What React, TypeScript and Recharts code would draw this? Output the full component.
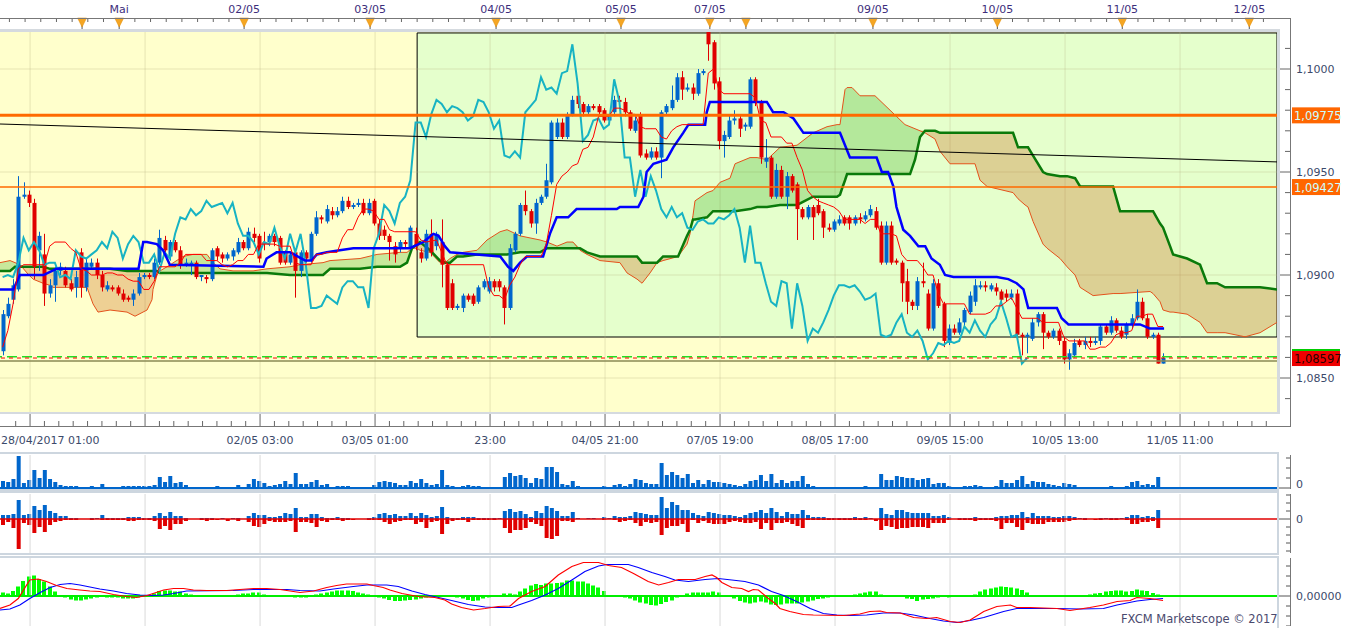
import React from 'react';
import { ComposedChart, Bar, Line, Area, XAxis, YAxis, ReferenceLine, ReferenceArea } from 'recharts';

const X_DOMAIN: [number, number] = [-0.5, 243.8];
const PRICE_DOMAIN: [number, number] = [1.08335, 1.101845];
const BLUE = '#0066CC';
const RED = '#E00000';
const FONT = '"DejaVu Sans", Verdana, sans-serif';
const AXIS_TEXT = '#3B4A6B';

// hourly candles: [open, high, low, close]
const candles: [number, number, number, number][] = [
  [1.0863,1.0883,1.0861,1.0881],[1.0880,1.0889,1.0879,1.0886],[1.0888,1.0898,1.0886,1.0895],[1.0893,1.0948,1.0892,1.0938],[1.0938,1.0945,1.0937,1.0939],
  [1.0939,1.0941,1.0933,1.0935],[1.0935,1.0937,1.0898,1.0904],[1.0912,1.0921,1.0902,1.0919],[1.0910,1.0920,1.0885,1.0891],[1.0891,1.0898,1.0889,1.0895],
  [1.0895,1.0904,1.0887,1.0902],[1.0902,1.0906,1.0900,1.0904],[1.0902,1.0904,1.0894,1.0895],[1.0896,1.0898,1.0892,1.0893],[1.0894,1.0902,1.0889,1.0899],
  [1.0911,1.0913,1.0889,1.0894],[1.0894,1.0908,1.0892,1.0906],[1.0904,1.0908,1.0903,1.0906],[1.0906,1.0908,1.0898,1.0900],[1.0900,1.0902,1.0892,1.0894],
  [1.0893,1.0897,1.0892,1.0895],[1.0894,1.0895,1.0892,1.0893],[1.0894,1.0895,1.0890,1.0891],[1.0891,1.0893,1.0887,1.0888],[1.0889,1.0890,1.0887,1.0888],
  [1.0888,1.0893,1.0885,1.0891],[1.0891,1.0901,1.0890,1.0899],[1.0899,1.0901,1.0898,1.0900],[1.0900,1.0901,1.0898,1.0899],[1.0899,1.0908,1.0898,1.0906],
  [1.0906,1.0922,1.0905,1.0918],[1.0917,1.0919,1.0910,1.0912],[1.0909,1.0917,1.0907,1.0916],[1.0916,1.0917,1.0911,1.0912],[1.0912,1.0914,1.0903,1.0905],
  [1.0905,1.0908,1.0904,1.0906],[1.0905,1.0907,1.0900,1.0906],[1.0906,1.0907,1.0898,1.0899],[1.0899,1.0900,1.0897,1.0900],[1.0899,1.0900,1.0896,1.0898],
  [1.0898,1.0913,1.0897,1.0912],[1.0913,1.0914,1.0907,1.0909],[1.0910,1.0911,1.0906,1.0908],[1.0908,1.0911,1.0907,1.0910],[1.0909,1.0913,1.0907,1.0912],
  [1.0911,1.0918,1.0910,1.0916],[1.0916,1.0917,1.0912,1.0913],[1.0913,1.0923,1.0912,1.0921],[1.0920,1.0923,1.0916,1.0918],[1.0919,1.0920,1.0906,1.0908],
  [1.0916,1.0921,1.0912,1.0915],[1.0916,1.0920,1.0914,1.0919],[1.0919,1.0920,1.0914,1.0916],[1.0918,1.0919,1.0905,1.0906],[1.0911,1.0912,1.0905,1.0906],
  [1.0906,1.0911,1.0905,1.0910],[1.0911,1.0912,1.0889,1.0902],[1.0902,1.0912,1.0899,1.0911],[1.0911,1.0912,1.0906,1.0908],[1.0907,1.0921,1.0906,1.0920],
  [1.0920,1.0931,1.0919,1.0928],[1.0928,1.0929,1.0925,1.0927],[1.0926,1.0934,1.0925,1.0932],[1.0931,1.0933,1.0927,1.0929],[1.0929,1.0933,1.0928,1.0931],
  [1.0931,1.0938,1.0930,1.0936],[1.0936,1.0938,1.0932,1.0933],[1.0933,1.0935,1.0932,1.0934],[1.0934,1.0937,1.0933,1.0935],[1.0935,1.0937,1.0929,1.0930],
  [1.0930,1.0937,1.0929,1.0935],[1.0936,1.0937,1.0924,1.0925],[1.0925,1.0927,1.0917,1.0919],[1.0922,1.0924,1.0917,1.0919],[1.0919,1.0920,1.0907,1.0916],
  [1.0914,1.0916,1.0906,1.0910],[1.0913,1.0917,1.0911,1.0916],[1.0916,1.0917,1.0913,1.0915],[1.0913,1.0924,1.0912,1.0923],[1.0920,1.0923,1.0912,1.0914],
  [1.0911,1.0913,1.0906,1.0908],[1.0908,1.0922,1.0907,1.0920],[1.0920,1.0927,1.0909,1.0911],[1.0914,1.0921,1.0912,1.0920],[1.0916,1.0927,1.0894,1.0905],
  [1.0905,1.0906,1.0883,1.0884],[1.0896,1.0898,1.0883,1.0884],[1.0884,1.0886,1.0883,1.0885],[1.0884,1.0891,1.0882,1.0890],[1.0890,1.0891,1.0887,1.0888],
  [1.0890,1.0891,1.0885,1.0886],[1.0887,1.0895,1.0886,1.0894],[1.0894,1.0898,1.0893,1.0897],[1.0892,1.0899,1.0891,1.0897],[1.0897,1.0898,1.0892,1.0894],
  [1.0897,1.0898,1.0892,1.0894],[1.0894,1.0895,1.0876,1.0884],[1.0884,1.0915,1.0883,1.0913],[1.0912,1.0921,1.0911,1.0920],[1.0920,1.0935,1.0919,1.0934],
  [1.0934,1.0941,1.0929,1.0931],[1.0931,1.0932,1.0923,1.0925],[1.0925,1.0937,1.0920,1.0935],[1.0935,1.0939,1.0934,1.0938],[1.0938,1.0954,1.0937,1.0946],
  [1.0945,1.0975,1.0944,1.0974],[1.0967,1.0976,1.0966,1.0974],[1.0974,1.0976,1.0966,1.0967],[1.0967,1.0979,1.0966,1.0978],[1.0978,1.0987,1.0977,1.0985],
  [1.0987,1.0988,1.0981,1.0983],[1.0983,1.0984,1.0977,1.0979],[1.0979,1.0983,1.0978,1.0982],[1.0982,1.0983,1.0980,1.0981],[1.0982,1.0983,1.0978,1.0979],
  [1.0980,1.0981,1.0974,1.0975],[1.0975,1.0978,1.0974,1.0977],[1.0979,1.0987,1.0977,1.0985],[1.0985,1.0987,1.0982,1.0984],[1.0984,1.0986,1.0977,1.0979],
  [1.0979,1.0980,1.0970,1.0971],[1.0970,1.0977,1.0969,1.0975],[1.0978,1.0979,1.0957,1.0958],[1.0959,1.0961,1.0956,1.0957],[1.0957,1.0962,1.0956,1.0960],
  [1.0960,1.0962,1.0956,1.0957],[1.0957,1.0980,1.0947,1.0979],[1.0979,1.0983,1.0978,1.0982],[1.0981,1.0992,1.0980,1.0985],[1.0985,1.0998,1.0984,1.0996],
  [1.0996,1.0999,1.0985,1.0990],[1.0990,1.0993,1.0989,1.0991],[1.0991,1.0993,1.0985,1.0988],[1.0988,1.1000,1.0987,1.0998],[1.0998,1.1000,1.0997,1.0999],
  [1.1018,1.1018,1.1004,1.1012],[1.1013,1.1014,1.0990,1.0993],[1.0994,1.0996,1.0961,1.0965],[1.0965,1.0970,1.0957,1.0968],[1.0967,1.0978,1.0966,1.0975],
  [1.0975,1.0980,1.0973,1.0976],[1.0976,1.0978,1.0967,1.0971],[1.0972,1.0974,1.0970,1.0973],[1.0972,1.0996,1.0971,1.0995],[1.0995,1.0996,1.0982,1.0984],
  [1.0984,1.0985,1.0954,1.0957],[1.0955,1.0966,1.0952,1.0957],[1.0957,1.0958,1.0937,1.0938],[1.0938,1.0954,1.0937,1.0951],[1.0951,1.0953,1.0937,1.0938],
  [1.0938,1.0950,1.0932,1.0948],[1.0948,1.0949,1.0940,1.0941],[1.0944,1.0945,1.0917,1.0932],[1.0932,1.0933,1.0927,1.0928],[1.0928,1.0934,1.0927,1.0933],
  [1.0933,1.0934,1.0917,1.0928],[1.0934,1.0937,1.0929,1.0930],[1.0931,1.0932,1.0918,1.0923],[1.0923,1.0925,1.0921,1.0922],[1.0922,1.0927,1.0921,1.0926],
  [1.0925,1.0929,1.0924,1.0927],[1.0928,1.0929,1.0924,1.0925],[1.0928,1.0929,1.0922,1.0925],[1.0925,1.0929,1.0924,1.0928],[1.0928,1.0930,1.0925,1.0927],
  [1.0927,1.0931,1.0926,1.0929],[1.0929,1.0934,1.0928,1.0932],[1.0931,1.0933,1.0922,1.0923],[1.0924,1.0926,1.0905,1.0906],[1.0906,1.0926,1.0905,1.0924],
  [1.0924,1.0926,1.0905,1.0906],[1.0907,1.0908,1.0905,1.0906],[1.0906,1.0907,1.0887,1.0896],[1.0897,1.0903,1.0881,1.0887],[1.0887,1.0888,1.0883,1.0885],
  [1.0885,1.0899,1.0883,1.0897],[1.0897,1.0906,1.0894,1.0896],[1.0891,1.0893,1.0873,1.0874],[1.0874,1.0898,1.0873,1.0896],[1.0896,1.0898,1.0884,1.0885],
  [1.0886,1.0887,1.0865,1.0868],[1.0868,1.0876,1.0866,1.0874],[1.0874,1.0876,1.0871,1.0872],[1.0872,1.0879,1.0871,1.0877],[1.0877,1.0884,1.0875,1.0883],
  [1.0882,1.0892,1.0881,1.0890],[1.0887,1.0898,1.0885,1.0895],[1.0894,1.0897,1.0893,1.0895],[1.0895,1.0897,1.0892,1.0894],[1.0893,1.0896,1.0892,1.0895],
  [1.0894,1.0896,1.0890,1.0892],[1.0892,1.0893,1.0887,1.0888],[1.0891,1.0893,1.0887,1.0889],[1.0889,1.0893,1.0888,1.0891],[1.0891,1.0893,1.0870,1.0871],
  [1.0871,1.0872,1.0861,1.0870],[1.0870,1.0872,1.0862,1.0871],[1.0869,1.0879,1.0868,1.0877],[1.0877,1.0882,1.0875,1.0881],[1.0881,1.0882,1.0864,1.0872],
  [1.0872,1.0873,1.0869,1.0870],[1.0870,1.0874,1.0869,1.0873],[1.0873,1.0874,1.0866,1.0868],[1.0868,1.0870,1.0857,1.0859],[1.0859,1.0864,1.0854,1.0862],
  [1.0861,1.0869,1.0860,1.0867],[1.0868,1.0869,1.0865,1.0866],[1.0866,1.0870,1.0864,1.0868],[1.0868,1.0870,1.0865,1.0867],[1.0867,1.0870,1.0866,1.0868],
  [1.0868,1.0876,1.0866,1.0875],[1.0875,1.0876,1.0871,1.0872],[1.0872,1.0880,1.0871,1.0878],[1.0878,1.0879,1.0872,1.0873],[1.0873,1.0875,1.0869,1.0870],
  [1.0871,1.0877,1.0869,1.0876],[1.0876,1.0881,1.0874,1.0879],[1.0879,1.0893,1.0878,1.0887],[1.0887,1.0889,1.0878,1.0879],[1.0879,1.0881,1.0869,1.0870],
  [1.0870,1.0872,1.0869,1.0871],[1.0871,1.0872,1.0857,1.0857],[1.0857,1.0862,1.0857,1.08597],
];

const volumes = [
  7,6,9,32,5,8,18,10,18,9, 6,3,2,2,2,0.5,0.5,2,1,4, 1,0.3,0.3,2,2,2,2,2,2,3, 11,6,12,5,6,3,1,1,1,1,
  1,2,1,1,1,3,1,4,9,7, 5,2,3,4,7,4,15,4,4,6, 8,3,4,1,2,2,2,1,1,1, 1,3,6,7,6,5,3,3,7,5,
  9,5,3,4,18,3,2,1,2,3, 2,2,1,1,1,1,11,15,12,13, 10,5,10,9,21,21,16,4,3,7, 2,1,1,1,1,2,1,3,4,2,
  4,9,8,5,4,4,25,13,16,13, 10,14,5,8,4,8,6,6,5,4, 3,2,4,7,8,13,7,14,5,8, 5,7,7,12,4,2,1,1,1,1,
  1,1,1,1,1,2,1,0.5,14,8, 8,12,11,10,10,8,9,10,4,5, 5,2,1,1,2,2,3,2,1,1, 2,8,5,5,8,12,4,7,6,6,
  4,3,2,5,4,3,1,1,1,0.3, 1,1,2,1,1,2,6,7,3,4, 3,11,1,
];

const buyVolumes = [
  4,4,5,19,4,5,13,9,14,8, 6,3,3,1,1,0,0,1,1,4, 1,1,1,1,2,2,2,1,1,3, 6,3,7,3,3,1,0,0,1,1,
  1,0,1,0,1,1,0,3,6,4, 4,2,2,3,6,5,11,2,2,5, 5,2,1,1,2,1,1,0,0,0, 1,2,5,6,4,5,3,3,6,3,
  6,4,2,3,12,2,1,1,2,2, 2,1,1,1,1,1,8,10,7,8, 5,2,8,6,13,11,8,3,3,7, 1,0,1,1,0,2,1,3,2,2,
  3,7,6,5,4,4,22,11,17,14, 9,9,6,4,3,7,6,5,4,4, 3,2,4,6,7,9,6,11,7,3, 7,5,5,9,4,2,2,2,1,1,
  1,1,1,2,1,2,1,0,11,5, 4,9,9,7,6,6,6,6,3,3, 4,2,0,1,1,1,2,1,1,1, 2,3,3,4,4,7,2,6,3,3,
  3,2,2,3,3,2,1,1,0,0, 1,1,1,1,1,2,4,4,2,3, 2,9,0,
];

const sellVolumes = [
  6,3,9,30,4,6,14,8,13,6, 3,2,1,1,1,0,0,1,0,1, 1,1,1,1,2,2,1,1,1,2, 10,7,11,5,5,2,0,0,1,2,
  1,1,0,2,0,2,0,3,7,8, 5,2,3,3,3,2,13,3,3,4, 8,2,3,1,1,2,1,1,0,0, 1,1,1,3,5,3,2,1,1,5,
  3,9,3,2,15,5,2,1,1,3, 1,1,1,1,1,0,9,14,11,11, 9,3,5,7,19,20,17,2,2,3, 0,0,0,0,0,1,0,1,3,2,
  1,4,7,3,4,3,16,9,7,7, 5,13,1,4,2,4,5,5,5,3, 2,3,4,4,3,10,4,11,4,4, 3,5,7,9,1,1,1,1,1,1,
  1,1,1,1,1,1,0,2,11,7, 8,10,9,9,8,8,8,9,4,4, 4,1,0,1,1,1,2,1,1,1, 2,10,4,4,8,11,4,5,5,5,
  3,3,3,3,2,1,0,1,0,1, 1,0,1,1,0,1,5,5,3,3, 2,9,0,
];

const macdHist = [
  0.00007,0.00005,0.0001,0.00019,0.0003,0.00039,0.00041,0.00034,0.00029,0.00019,
  0.00009,0.00002,-0.00003,-0.00007,-0.00009,-0.00009,-0.00007,-0.00005,-0.00003,-0.00002,
  -0.00003,-0.00003,-0.00003,-0.00005,-0.00005,-0.00005,-0.00003,-0.00001,0.00002,0.00005,
  0.0001,0.00011,0.00011,0.00009,0.00009,0.00005,0.00003,0.00002,0,-0.00002,
  -0.00002,-0.00001,0,0.00001,0.00002,0.00003,0.00005,0.00005,0.00007,0.00007,
  0.00003,0.00002,0.00002,0.00002,0.00002,0,-0.00003,-0.00003,-0.00003,-0.00001,
  0.00003,0.00005,0.00007,0.00009,0.00011,0.00011,0.00011,0.0001,0.00007,0.00005,
  0.00003,0.00001,-0.00003,-0.00005,-0.00008,-0.0001,-0.0001,-0.00009,-0.00008,-0.00007,
  -0.00005,-0.00003,-0.00001,0.00001,0.00002,0.00001,-0.00002,-0.00003,-0.00005,-0.00008,
  -0.0001,-0.00009,-0.00005,-0.00003,0,0,0.00005,0.00005,0.00003,0.00009,
  0.00015,0.00021,0.00024,0.00022,0.00025,0.00025,0.00026,0.00027,0.00031,0.00031,
  0.00029,0.00029,0.00025,0.00021,0.00017,0.0001,0,-0.00001,-0.00002,-0.00003,
  -0.00005,-0.00009,-0.00013,-0.00015,-0.00018,-0.00019,-0.00016,-0.00012,-0.00009,-0.00003,
  0.00002,0.00005,0.00007,0.00007,0.00007,0.00007,0.00009,0.00007,0,-0.00002,
  -0.00005,-0.0001,-0.00013,-0.00015,-0.00013,-0.00011,-0.00013,-0.00017,-0.00018,-0.00017,
  -0.00015,-0.00015,-0.00015,-0.00013,-0.00011,-0.00009,-0.00006,-0.00005,-0.00003,-0.00001,
  0,0,0.00002,0.00003,0.00005,0.00007,0.00009,0.00009,0.00003,0.00002,
  0,0,0,-0.00005,-0.00006,-0.0001,-0.00007,-0.00006,-0.00005,-0.00003,
  -0.00001,-0.00003,-0.00002,0,0,0.00001,0.00003,0.00009,0.00013,0.00015,
  0.00017,0.00019,0.00018,0.00017,0.00015,0.00012,0.00007,0.00002,0,0,
  0,0,0,0,0,0,0.00001,0.00002,0.00003,0.00005,
  0.00006,0.00009,0.0001,0.00011,0.00011,0.00009,0.0001,0.00013,0.00011,0.0001,
  0.00006,0.00003,0.00001,
];

// [bar, value] vertices
const macdLine: [number, number][] = [
  [-0.5,-0.00025],[1.4,-0.00018],[3,-0.00005],[4,0.00012],[5.2,0.00032],[6.8,0.00034],[8.4,0.00029],[10.3,0.00021],[12.3,0.00015],
  [14.8,0.00012],[16.7,0.0001],[18.6,0.00009],[21.2,0.00003],[23.7,-0.00001],[25.6,-0.00003],[27.6,0.00001],[28.8,0.00005],[30.8,0.00012],
  [32.7,0.00015],[34.6,0.00015],[36.5,0.00012],[39,0.00011],[42.9,0.00011],[45.4,0.00013],[48,0.00015],[50.5,0.00015],[53.1,0.00013],
  [55,0.0001],[56.9,0.00007],[59.5,0.0001],[62,0.00017],[63.9,0.00021],[65.8,0.00024],[69.7,0.00024],[70.9,0.00021],[72.8,0.00017],
  [74.1,0.00012],[76.4,0.00005],[79.5,-0.00001],[82.7,-0.00003],[84.6,-0.00008],[85.9,-0.00016],[87.8,-0.00023],[90.1,-0.00028],
  [92.3,-0.00025],[94.8,-0.00021],[97.1,-0.0002],[98.7,-0.00005],[101.2,0.00009],[103.8,0.00019],[106.3,0.00042],[108.9,0.00059],
  [111.1,0.00067],[114,0.00067],[115.9,0.00061],[118.4,0.00057],[120.7,0.00045],[123.5,0.00029],[125.5,0.00022],[127.4,0.00027],
  [129.3,0.00033],[132.5,0.00033],[134.4,0.00039],[135.7,0.00042],[136.6,0.00037],[137.6,0.00027],[139.5,0.00017],[141.4,0.00015],
  [142.7,0.00009],[143.6,0.00013],[144.6,0.00012],[146.5,-0.00005],[147.8,-0.00015],[148.7,-0.00025],[150.6,-0.00031],[153.2,-0.00037],
  [155.1,-0.00038],[160.9,-0.00039],[164,-0.00036],[165.9,-0.00031],[167.9,-0.0003],[169.1,-0.00033],[171.7,-0.00034],[174.3,-0.00043],
  [176.8,-0.00045],[178.7,-0.00043],[181.3,-0.00051],[183.2,-0.00053],[185.1,-0.00048],[187.7,-0.00031],[190.2,-0.00021],[192.8,-0.00018],
  [194,-0.00023],[196.6,-0.00023],[201.7,-0.00025],[204.2,-0.00029],[208,-0.00023],[210.6,-0.00018],[213.2,-0.00011],[215.7,-0.00009],
  [217,-0.00003],[219.5,-0.00005],[222,-0.00009],
];

const signalLine: [number, number][] = [
  [-0.5,-0.00028],[1.4,-0.00026],[3.3,-0.00018],[5.2,-0.00005],[7.2,0.00007],[9.1,0.00017],[11,0.00023],[12.9,0.00025],[14.8,0.00022],
  [16.7,0.00018],[18.6,0.00014],[21.2,0.0001],[23.7,0.00005],[26.3,0.00002],[28.8,0.00001],[30.8,0.00002],[32.7,0.00005],[35.2,0.0001],
  [44.1,0.00011],[48,0.00013],[54.4,0.00013],[56.9,0.00011],[60.7,0.0001],[63.3,0.00014],[67.1,0.00019],[69.7,0.00022],[73.5,0.00022],
  [75.7,0.00019],[78.3,0.0001],[80.8,0.00003],[83.4,-0.00003],[85.9,-0.00009],[89.1,-0.00017],[92.3,-0.00022],[94.2,-0.00023],
  [97.4,-0.00023],[98.7,-0.00018],[101.2,-0.00009],[103.8,0.00002],[106.3,0.00015],[108.9,0.00032],[111.4,0.00049],[114,0.0006],
  [115.6,0.00063],[119.7,0.00063],[121.6,0.00057],[124.2,0.00047],[126.7,0.00039],[128.6,0.00032],[131.2,0.00029],[134.4,0.00033],
  [136.9,0.00035],[139.5,0.00032],[142,0.00029],[144.6,0.00022],[147.1,0.00009],[149.4,0.00001],[151.9,-0.00011],[154.5,-0.00025],
  [157,-0.00035],[159.6,-0.00038],[162.1,-0.00039],[165.3,-0.00038],[168.5,-0.00034],[171.7,-0.00034],[174.3,-0.00038],[177.4,-0.00045],
  [180,-0.0005],[182.6,-0.00053],[185.1,-0.00049],[187.7,-0.00043],[191.5,-0.00031],[194,-0.00025],[201.7,-0.00025],[206.2,-0.00026],
  [210.6,-0.00025],[213.2,-0.00018],[217,-0.0001],[219.5,-0.00007],[222,-0.00005],
];

const tenkanLine: [number, number][] = [
  [0,1.0865],[1,1.0873],[2,1.0886],[3,1.0903],[4,1.0905],[8,1.0905],[9,1.0914],[10,1.0916],[12,1.0916],[13,1.0913],[14,1.0911],
  [15,1.0903],[16,1.0902],[17,1.0900],[19,1.0900],[20,1.0901],[21,1.0901],[22,1.0900],[23,1.0900],[24,1.0898],[25,1.0897],[26,1.0897],
  [27,1.0893],[28,1.0893],[29,1.0897],[30,1.0904],[33,1.0904],[34,1.0906],[35,1.0910],[38,1.0910],[39,1.0907],[41,1.0907],[42,1.0905],
  [43,1.0904],[44,1.0905],[45,1.0907],[46,1.0907],[47,1.0910],[48,1.0910],[49,1.0915],[52,1.0915],[53,1.0914],[55,1.0914],[56,1.0906],
  [57,1.0905],[59,1.0905],[60,1.0910],[61,1.0910],[62,1.0911],[64,1.0911],[65,1.0918],[66,1.0922],[67,1.0922],[68,1.0928],[69,1.0932],
  [70,1.0932],[71,1.0931],[72,1.0927],[73,1.0927],[74,1.0922],[75,1.0921],[79,1.0921],[80,1.0917],[81,1.0916],[83,1.0917],[84,1.0911],
  [85,1.0905],[92,1.0905],[93,1.0894],[94,1.0890],[95,1.0890],[96,1.0888],[97,1.0895],[98,1.0899],[99,1.0905],[100,1.0909],[103,1.0909],
  [104,1.0915],[105,1.0929],[106,1.0944],[107,1.0948],[108,1.0950],[109,1.0953],[110,1.0954],[111,1.0961],[112,1.0962],[113,1.0967],
  [114,1.0977],[116,1.0977],[117,1.0981],[118,1.0981],[119,1.0980],[120,1.0978],[121,1.0978],[122,1.0972],[123,1.0971],[125,1.0971],
  [126,1.0967],[127,1.0966],[128,1.0970],[129,1.0972],[130,1.0973],[134,1.0973],[135,1.0998],[136,1.1000],[137,1.0990],[138,1.0988],
  [143,1.0988],[144,1.0986],[145,1.0975],[146,1.0974],[147,1.0967],[149,1.0967],[150,1.0964],[151,1.0964],[152,1.0957],[153,1.0951],
  [154,1.0941],[155,1.0938],[156,1.0936],[157,1.0935],[158,1.0934],[159,1.0933],[160,1.0931],[161,1.0927],[164,1.0927],[165,1.0925],
  [166,1.0927],[167,1.0927],[168,1.0920],[170,1.0920],[171,1.0919],[172,1.0910],[173,1.0907],[175,1.0907],[176,1.0904],[177,1.0900],
  [178,1.0900],[179,1.0891],[180,1.0886],[184,1.0886],[185,1.0881],[188,1.0881],[189,1.0882],[190,1.0885],[191,1.0885],[192,1.0887],
  [193,1.0889],[194,1.0884],[195,1.0879],[198,1.0879],[199,1.0877],[202,1.0877],[203,1.0870],[204,1.0868],[207,1.0868],[208,1.0864],
  [209,1.0864],[210,1.0865],[211,1.0865],[212,1.0867],[213,1.0871],[214,1.0872],[215,1.0872],[216,1.0873],[217,1.0880],[218,1.0880],
  [219,1.0881],[220,1.0881],[221,1.0875],[222,1.0875],
];

const kijunLine: [number, number][] = [
  [-0.5,1.0893],[2.05,1.0893],[3.3,1.0900],[7.8,1.0900],[10.3,1.0903],[26,1.0903],[26.9,1.0916],[27.6,1.0916],[29.5,1.0915],[30.7,1.0912],
  [32,1.0905],[49.9,1.0904],[50.5,1.0908],[52.4,1.0911],[55,1.0911],[57.2,1.0908],[57.9,1.0907],[59.1,1.0907],[60.1,1.0910],[62,1.0911],
  [64.5,1.0912],[67.1,1.0913],[77.9,1.0913],[80.5,1.0916],[82.4,1.0920],[83.4,1.0919],[84.6,1.0914],[85.6,1.0911],[95.2,1.0909],
  [96.7,1.0904],[97.7,1.0902],[99,1.0906],[100.3,1.0909],[103.4,1.0909],[104.7,1.0920],[106,1.0928],[108.2,1.0928],[109.8,1.0932],
  [117.5,1.0932],[118.1,1.0933],[121.6,1.0933],[122.6,1.0938],[123.2,1.0950],[124.5,1.0954],[127,1.0956],[128.3,1.0962],[130.2,1.0969],
  [131.2,1.0973],[134.4,1.0973],[134.7,1.0979],[135.3,1.0984],[146.2,1.0984],[147.4,1.0979],[149.4,1.0979],[151.3,1.0976],[153.2,1.0969],
  [160.2,1.0969],[162.1,1.0957],[167.2,1.0957],[168.2,1.0950],[169.4,1.0950],[170.4,1.0943],[171,1.0933],[172.3,1.0922],[173.6,1.0919],
  [175.2,1.0914],[176.5,1.0914],[177.7,1.0908],[179.3,1.0905],[180.3,1.0900],[181.9,1.0899],[190.2,1.0899],[192.4,1.0898],[194,1.0896],
  [195.3,1.0893],[196.2,1.0884],[201.7,1.0884],[202.6,1.0879],[203.9,1.0876],[217.6,1.0876],[219.5,1.0874],[222.2,1.0874],
];

// [bar, senkou span A, senkou span B]
const cloudPoints: [number, number, number][] = [
  [-0.5,1.0906,1.0902],[1.42,1.0907,1.0902],[2.37,1.0906,1.0904],[3.33,1.0905,1.0904],[4.67,1.0901,1.0904],[5.82,1.0898,1.0904],
  [7.73,1.0896,1.0904],[9.07,1.0895,1.0903],[9.64,1.0894,1.0903],[16.15,1.0894,1.0903],[17.29,1.0886,1.0903],[18.25,1.0882,1.0903],
  [20.55,1.0883,1.0903],[23.8,1.0882,1.0902],[25.33,1.0880,1.0902],[27.63,1.0883,1.0902],[28.58,1.0888,1.0902],[28.77,1.0893,1.0902],
  [29.54,1.0900,1.0902],[30.11,1.0902,1.0901],[31.45,1.0904,1.0901],[34.51,1.0909,1.0901],[36.43,1.0910,1.0901],[39.1,1.0910,1.0901],
  [40.25,1.0906,1.0901],[41.59,1.0903,1.0901],[44.08,1.0902,1.0901],[47.91,1.0902,1.0901],[50.58,1.0903,1.0901],[54.98,1.0904,1.0900],
  [56.9,1.0905,1.0900],[61.3,1.0906,1.0900],[62.64,1.0907,1.0903],[68.38,1.0908,1.0903],[71.63,1.0910,1.0904],[76.03,1.0911,1.0904],
  [77.37,1.0911,1.0906],[78.32,1.0913,1.0913],[79.28,1.0913,1.0915],[79.85,1.0912,1.0916],[81.77,1.0911,1.0912],[83.68,1.0906,1.0907],
  [84.64,1.0906,1.0906],[85.6,1.0908,1.0906],[86.93,1.0910,1.0909],[88.08,1.0911,1.0909],[90.76,1.0912,1.0910],[92.67,1.0917,1.0910],
  [95.16,1.0921,1.0910],[96.5,1.0922,1.0910],[98.99,1.0919,1.0911],[100.9,1.0918,1.0911],[102.81,1.0917,1.0911],[104.15,1.0916,1.0913],
  [106.06,1.0914,1.0913],[107.98,1.0916,1.0913],[109.12,1.0916,1.0913],[110.46,1.0912,1.0913],[111.8,1.0910,1.0911],[114.29,1.0907,1.0909],
  [118.1,1.0906,1.0909],[119.46,1.0901,1.0909],[121.37,1.0898,1.0909],[122.33,1.0896,1.0906],[123.86,1.0901,1.0906],[125.2,1.0906,1.0906],
  [126.35,1.0907,1.0909],[129.22,1.0909,1.0909],[130.94,1.0915,1.0919],[131.51,1.0920,1.0922],[132.08,1.0929,1.0927],[132.46,1.0936,1.0927],
  [134.76,1.0940,1.0928],[135.91,1.0941,1.0931],[137.25,1.0945,1.0931],[139.16,1.0947,1.0931],[140.12,1.0954,1.0931],[142.99,1.0957,1.0932],
  [144.33,1.0957,1.0933],[146.24,1.0956,1.0933],[148.73,1.0962,1.0934],[151.98,1.0963,1.0934],[155.04,1.0969,1.0938],[157.72,1.0972,1.0938],
  [159.63,1.0973,1.0938],[160.2,1.0973,1.0939],[160.59,1.0980,1.0942],[161.16,1.0990,1.0946],[161.55,1.0991,1.0949],[162.5,1.0991,1.0949],
  [164.03,1.0987,1.0949],[166.9,1.0987,1.0949],[169.77,1.0980,1.0949],[172.64,1.0973,1.0949],[173.6,1.0972,1.0949],[174.55,1.0971,1.0956],
  [175.51,1.0970,1.0967],[176.47,1.0969,1.0970],[178.38,1.0966,1.0970],[179.34,1.0960,1.0969],[181.25,1.0954,1.0969],[186.03,1.0954,1.0969],
  [186.99,1.0946,1.0969],[188.33,1.0943,1.0969],[193.3,1.0940,1.0969],[194.26,1.0937,1.0962],[195.6,1.0934,1.0962],[196.17,1.0933,1.0962],
  [197.13,1.0926,1.0958],[199.04,1.0915,1.0950],[199.81,1.0913,1.0949],[202.3,1.0908,1.0948],[203.64,1.0904,1.0948],[205.17,1.0900,1.0947],
  [206.13,1.0894,1.0943],[208.62,1.0890,1.0943],[212.44,1.0891,1.0943],[213.78,1.0891,1.0931],[219.52,1.0892,1.0931],[220.09,1.0891,1.0931],
  [221.43,1.0887,1.0925],[222.0,1.0883,1.0923],[223.34,1.0882,1.0914],[223.92,1.0882,1.0910],[226.6,1.0881,1.0908],[229.08,1.0877,1.0905],
  [230.42,1.0872,1.0896],[232.34,1.0872,1.0896],[233.87,1.0872,1.0894],[237.69,1.0870,1.0894],[240.56,1.0872,1.0894],[243.81,1.0877,1.0893],
];

const timeLabels = ['28/04/2017 01:00', '', '02/05 03:00', '03/05 01:00', '23:00', '04/05 21:00', '07/05 19:00', '08/05 17:00', '09/05 15:00', '10/05 13:00', '11/05 11:00'];
const dayMarks = [
  { i: 15.2, label: '' }, { i: 22.3, label: 'Mai' }, { i: 46.2, label: '02/05' }, { i: 70.3, label: '03/05' },
  { i: 94.4, label: '04/05' }, { i: 118.3, label: '05/05' }, { i: 135.3, label: '07/05' }, { i: 142.2, label: '' },
  { i: 166.5, label: '09/05' }, { i: 190.3, label: '10/05' }, { i: 214.2, label: '11/05' }, { i: 238.5, label: '12/05' },
];

const resistance = 1.09775;
const support = 1.09427;
const askPrice = 1.08603;
const bidPrice = 1.08597;
const lowLine = 1.08582;
const trendLine = [{ x: -0.5, y: 1.09733 }, { x: 243.8, y: 1.09549 }];
const box = { x1: 79.3, x2: 243.8, y1: 1.08699, y2: 1.10175 };

// chart tables
const rows = candles.map(([o, h, l, c], i) => ({
  i, o, h, l, c, vol: volumes[i], buy: buyVolumes[i], sell: -sellVolumes[i], hist: macdHist[i],
}));
const chikouRows = candles.slice(26).map((cd, k) => ({ i: k, v: cd[3] }));
const toRows = (pts: [number, number][]) => pts.map(([i, v]) => ({ i, v }));
const cloudRows = cloudPoints.map(([i, a, b]) => ({ i, a, b }));

const gridBars = Array.from({ length: 11 }, (_, k) => 5.25 + 22 * k);
const priceTicks = Array.from({ length: 18 }, (_, k) => +(1.084 + k * 0.001).toFixed(4));
const timeTicks = Array.from({ length: 88 }, (_, k) => 2.5 + 2.75 * k);
const dayTicks = (() => {
  const t = dayMarks.map((m) => m.i);
  const add = (v: number) => { if (!t.some((m) => Math.abs(m - v) < 1)) t.push(+v.toFixed(2)); };
  for (let v = 1.3; v < 120; v += 3) add(v);
  for (let v = 139.2; v < 243.8; v += 3) add(v);
  return t.sort((a, b) => a - b);
})();

const Candle = (props: any) => {
  const { x, y, width, height, payload } = props;
  if (!payload || height == null) return null;
  const { o, h, l, c } = payload;
  const top = Math.min(y, y + height);
  const span = Math.abs(height);
  const k = h > l ? span / (h - l) : 0;
  const yOf = (p: number) => top + (h - p) * k;
  const color = c >= o ? BLUE : RED;
  const cx = Math.round(x + width / 2) + 0.5;
  const bTop = yOf(Math.max(o, c));
  const bH = Math.max(1, yOf(Math.min(o, c)) - bTop);
  return (
    <g>
      <line x1={cx} x2={cx} y1={top} y2={top + span} stroke={color} strokeWidth={1} />
      <rect x={cx - 2} y={bTop} width={4} height={bH} fill={color} />
    </g>
  );
};

// fixed-width bar (the MACD axis also carries line vertices, which narrows the default band)
const HistBar = (props: any) => {
  const { x, y, width, height, fill } = props;
  if (height == null || !isFinite(y)) return null;
  const top = Math.min(y, y + height);
  const h = Math.abs(height);
  if (h < 0.01) return null;
  const cx = Math.round(x + width / 2);
  return <rect x={cx - 2} y={top} width={4} height={h} fill={fill} />;
};

const PriceTick = (props: any) => {
  const { y, payload } = props;
  const v = payload.value;
  const major = Math.abs(v * 200 - Math.round(v * 200)) < 1e-6;
  return (
    <g>
      <line x1={major ? 1277 : 1285} x2={1291} y1={y} y2={y} stroke="#666" />
      {major && (
        <text x={1296} y={y + 4} fontSize={11} fill={AXIS_TEXT} fontFamily={FONT}>
          {v.toFixed(4).replace('.', ',')}
        </text>
      )}
    </g>
  );
};

const TimeTick = (props: any) => {
  const { x, payload } = props;
  const k = Math.round((payload.value - 5.25) / 2.75);
  const major = k >= 0 && k % 8 === 0;
  const label = major ? timeLabels[k / 8] : '';
  return (
    <g>
      <line x1={x} x2={x} y1={major ? 414 : 421} y2={426} stroke="#666" />
      {label && (
        <text x={k === 0 ? 1 : x} y={444} textAnchor={k === 0 ? 'start' : 'middle'} fontSize={11} fill={AXIS_TEXT} fontFamily={FONT}>
          {label}
        </text>
      )}
    </g>
  );
};

const DayTick = (props: any) => {
  const { x, payload } = props;
  const mark = dayMarks.find((m) => Math.abs(m.i - payload.value) < 0.01);
  if (!mark) return <line x1={x} x2={x} y1={18} y2={22} stroke="#666" />;
  return (
    <g>
      <line x1={x} x2={x} y1={18} y2={31} stroke="#555" />
      <path d={`M${x - 4.5},18 L${x + 4.5},18 L${x},27 Z`} fill="#F5A623" stroke="#E08A00" strokeWidth={0.5} />
      {mark.label && (
        <text x={x} y={12.5} textAnchor="middle" fontSize={11} fill="#3D2E7C" fontFamily={FONT}>{mark.label}</text>
      )}
    </g>
  );
};

const SubTick = (props: any) => {
  const { y, payload, zeroLabel, labelDy = 4 } = props;
  const v = payload.value;
  return (
    <g>
      <line x1={v === 0 ? 1277 : 1286} x2={1291} y1={y} y2={y} stroke="#555" />
      {v === 0 && (
        <text x={1296} y={y + labelDy} fontSize={11} fill={AXIS_TEXT} fontFamily={FONT}>{zeroLabel}</text>
      )}
    </g>
  );
};

const PriceTag = (props: any) => {
  const { viewBox, text, bg, color, topLine } = props;
  if (!viewBox) return null;
  const x = viewBox.x + viewBox.width + 15;
  const y = viewBox.y;
  return (
    <g>
      <rect x={x} y={y - 8} width={48} height={16} fill={bg} />
      {topLine && <line x1={x} x2={x + 48} y1={y - 8} y2={y - 8} stroke={topLine} strokeWidth={2} />}
      <text x={x + 2} y={y + 4.5} fontSize={11.5} fill={color} fontFamily={FONT}>{text}</text>
    </g>
  );
};

const frame = (top: number, height: number): React.CSSProperties => ({
  position: 'absolute', left: -2, top, width: 1281, height, boxSizing: 'border-box',
  border: '2px solid #CDD6DF', pointerEvents: 'none',
});

const Chrome = ({ style }: { style: React.CSSProperties }) => <div style={{ position: 'absolute', ...style }} />;

export default function App() {
  return (
    <div style={{ position: 'absolute', left: 0, top: 0, width: 1349, height: 628, background: '#fff', overflow: 'hidden', fontFamily: FONT }}>
      {/* price panel */}
      <div style={{ position: 'absolute', left: 0, top: 0 }}>
        <ComposedChart width={1349} height={453} data={rows} margin={{ top: 0, right: 0, bottom: 0, left: 0 }}>
          <XAxis dataKey="i" type="number" domain={X_DOMAIN} allowDataOverflow ticks={timeTicks} interval={0}
            height={41} tick={(p: any) => <TimeTick {...p} />} tickLine={false} axisLine={false} />
          <XAxis xAxisId="top" orientation="top" dataKey="i" type="number" domain={X_DOMAIN} allowDataOverflow ticks={dayTicks}
            interval={0} height={31} tick={(p: any) => <DayTick {...p} />} tickLine={false} axisLine={false} />
          <YAxis orientation="right" width={72} type="number" domain={PRICE_DOMAIN} allowDataOverflow ticks={priceTicks}
            interval={0} tick={(p: any) => <PriceTick {...p} />} tickLine={false} axisLine={false} />

          <ReferenceArea x1={X_DOMAIN[0]} x2={X_DOMAIN[1]} y1={PRICE_DOMAIN[0]} y2={PRICE_DOMAIN[1]} fill="#FFFFCC" fillOpacity={1} stroke="none" zIndex={-300} />
          <ReferenceArea x1={box.x1} x2={box.x2} y1={box.y1} y2={box.y2} fill="#E5FFCC" fillOpacity={1} stroke="#000" strokeWidth={1} zIndex={-250} />
          {gridBars.map((g) => (
            <ReferenceLine key={g} x={g} stroke="#B8B488" strokeOpacity={0.35} zIndex={-200} />
          ))}
          {[1.085, 1.09, 1.095, 1.1].map((p) => (
            <ReferenceLine key={p} y={p} stroke="#B8B488" strokeOpacity={0.35} zIndex={-200} />
          ))}

          <Area data={cloudRows} dataKey={(d: any) => [d.b, Math.max(d.a, d.b)]} type="linear" stroke="none"
            fill="#1AA000" fillOpacity={0.24} isAnimationActive={false} activeDot={false} zIndex={100} />
          <Area data={cloudRows} dataKey={(d: any) => [d.a, Math.max(d.a, d.b)]} type="linear" stroke="none"
            fill="#C86414" fillOpacity={0.3} isAnimationActive={false} activeDot={false} zIndex={100} />
          <Line data={cloudRows} dataKey="a" type="linear" stroke="#E4521B" strokeWidth={1} dot={false} activeDot={false} isAnimationActive={false} zIndex={150} />
          <Line data={cloudRows} dataKey="b" type="linear" stroke="#0A7A0A" strokeWidth={2.5} dot={false} activeDot={false} isAnimationActive={false} zIndex={150} />

          <Bar dataKey={(d: any) => [d.l, d.h]} barSize={5} shape={(p: any) => <Candle {...p} />} isAnimationActive={false} zIndex={300} />

          <Line data={chikouRows} dataKey="v" type="linear" stroke="#17B3C3" strokeWidth={2} dot={false} activeDot={false} isAnimationActive={false} zIndex={400} />
          <Line data={toRows(kijunLine)} dataKey="v" type="linear" stroke="#0000FF" strokeWidth={2.5} dot={false} activeDot={false} isAnimationActive={false} zIndex={400} />
          <Line data={toRows(tenkanLine)} dataKey="v" type="linear" stroke="#FF0000" strokeWidth={1} dot={false} activeDot={false} isAnimationActive={false} zIndex={400} />

          <ReferenceLine segment={trendLine} stroke="#000" strokeWidth={1} zIndex={450} />
          <ReferenceLine y={resistance} stroke="#FF6A00" strokeWidth={3} zIndex={450}
            label={(p: any) => <PriceTag {...p} text="1,09775" bg="#FF6600" color="#CCFFFF" />} />
          <ReferenceLine y={support} stroke="#FF6A00" strokeWidth={1.5} zIndex={450}
            label={(p: any) => <PriceTag {...p} text="1,09427" bg="#FF6600" color="#CCFFFF" />} />
          <ReferenceLine y={lowLine} stroke="#8A8A55" strokeWidth={1.5} zIndex={450} />
          <ReferenceLine y={askPrice} stroke="#22DD22" strokeWidth={1.5} strokeDasharray="10 5" zIndex={450} />
          <ReferenceLine y={bidPrice} stroke="#FF0000" strokeWidth={1} strokeDasharray="4 4" zIndex={450}
            label={(p: any) => <PriceTag {...p} text="1,08597" bg="#F00000" color="#2A0000" topLine="#00CC00" />} />
        </ComposedChart>
      </div>

      {/* axis chrome */}
      <Chrome style={{ left: 0, top: 18, width: 1291, height: 1, background: '#777' }} />
      <Chrome style={{ left: 0, top: 29, width: 1279, height: 3, background: '#D5DADF' }} />
      <Chrome style={{ left: 1277, top: 29, width: 3, height: 385, background: '#D5DADF' }} />
      <Chrome style={{ left: 0, top: 412, width: 1280, height: 2, background: '#D5DADF' }} />
      <Chrome style={{ left: 0, top: 426, width: 1291, height: 1, background: '#777' }} />
      <Chrome style={{ left: 1290, top: 18, width: 1, height: 409, background: '#777' }} />

      {/* volume */}
      <div style={{ position: 'absolute', left: 0, top: 455 }}>
        <ComposedChart width={1349} height={37} data={rows} margin={{ top: 0, right: 0, bottom: 4, left: 0 }}>
          <XAxis dataKey="i" type="number" domain={X_DOMAIN} allowDataOverflow hide />
          <YAxis orientation="right" width={72} type="number" domain={[0, 33]} allowDataOverflow ticks={[0, 10, 20, 30]}
            interval={0} tick={(p: any) => <SubTick {...p} zeroLabel="0" labelDy={0} />} tickLine={false} axisLine={false} />
          {gridBars.map((g) => <ReferenceLine key={g} x={g} stroke="#D9D9D9" />)}
          <ReferenceLine y={0} stroke={BLUE} strokeWidth={2} />
          <Bar dataKey="vol" fill={BLUE} barSize={4} isAnimationActive={false} />
        </ComposedChart>
      </div>
      <div style={frame(452, 39)} />
      <Chrome style={{ left: 1290, top: 455, width: 1, height: 34, background: '#777' }} />

      {/* buy / sell volume */}
      <div style={{ position: 'absolute', left: 0, top: 494 }}>
        <ComposedChart width={1349} height={59} data={rows} stackOffset="sign" margin={{ top: 0, right: 0, bottom: 0, left: 0 }}>
          <XAxis dataKey="i" type="number" domain={X_DOMAIN} allowDataOverflow hide />
          <YAxis orientation="right" width={72} type="number" domain={[-34, 25]} allowDataOverflow
            ticks={[-32, -24, -16, -8, 0, 8, 16, 24]} interval={0}
            tick={(p: any) => <SubTick {...p} zeroLabel="0" />} tickLine={false} axisLine={false} />
          {gridBars.map((g) => <ReferenceLine key={g} x={g} stroke="#D9D9D9" />)}
          <Bar dataKey="buy" stackId="s" fill={BLUE} barSize={4} isAnimationActive={false} />
          <Bar dataKey="sell" stackId="s" fill={RED} barSize={4} isAnimationActive={false} />
          <ReferenceLine y={0} stroke="#E00000" strokeWidth={1.5} />
        </ComposedChart>
      </div>
      <div style={frame(491, 64)} />
      <Chrome style={{ left: 1290, top: 494, width: 1, height: 59, background: '#777' }} />

      {/* MACD */}
      <div style={{ position: 'absolute', left: 0, top: 558 }}>
        <ComposedChart width={1349} height={68} data={rows} margin={{ top: 0, right: 0, bottom: 0, left: 0 }}>
          <XAxis dataKey="i" type="number" domain={X_DOMAIN} allowDataOverflow hide />
          <YAxis orientation="right" width={72} type="number" domain={[-0.0006, 0.00076]} allowDataOverflow
            ticks={[-0.0006, -0.0004, -0.0002, 0, 0.0002, 0.0004, 0.0006]} interval={0}
            tick={(p: any) => <SubTick {...p} zeroLabel="0,00000" />} tickLine={false} axisLine={false} />
          {gridBars.map((g) => <ReferenceLine key={g} x={g} stroke="#D9D9D9" />)}
          <Bar dataKey="hist" fill="#00FF00" barSize={4} shape={(p: any) => <HistBar {...p} />} isAnimationActive={false} />
          <ReferenceLine y={0} stroke="#00EE00" strokeWidth={2} />
          <Line data={toRows(signalLine)} dataKey="v" type="linear" stroke="#0000FF" strokeWidth={1.2} dot={false} activeDot={false} isAnimationActive={false} />
          <Line data={toRows(macdLine)} dataKey="v" type="linear" stroke="#FF0000" strokeWidth={1.2} dot={false} activeDot={false} isAnimationActive={false} />
        </ComposedChart>
      </div>
      <div style={frame(556, 74)} />
      <Chrome style={{ left: 1290, top: 558, width: 1, height: 68, background: '#777' }} />

      <div style={{ position: 'absolute', left: 1121, top: 612, fontSize: 11.5, color: '#4A4A6E', fontFamily: FONT, whiteSpace: 'nowrap' }}>
        FXCM Marketscope © 2017
      </div>
    </div>
  );
}
